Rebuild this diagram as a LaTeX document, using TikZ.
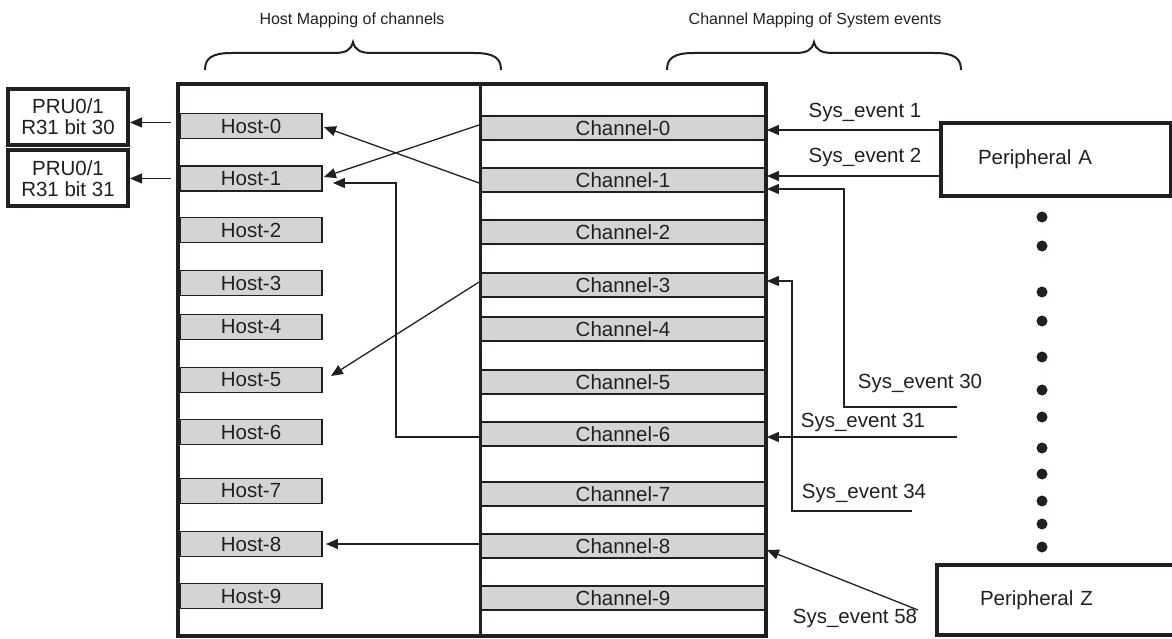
\documentclass[tikz,border=0pt]{standalone}
\usepackage{fontspec}
\setmainfont{Liberation Sans}
\usetikzlibrary{arrows.meta,calc}
\definecolor{ink}{HTML}{231F20}
\definecolor{boxgray}{HTML}{D4D4D4}
\begin{document}
\begin{tikzpicture}[x=1pt,y=-1pt,
  lbl/.style={font=\fontsize{20.5}{22}\selectfont, text=ink, inner sep=0pt},
  ttl/.style={font=\fontsize{16}{18}\selectfont, text=ink, inner sep=0pt},
  hostbox/.style={draw=ink, line width=1.8pt, fill=boxgray, minimum width=142pt, minimum height=25pt, inner sep=0pt, font=\fontsize{20.5}{22}\selectfont, text=ink},
  chanbox/.style={draw=ink, line width=1.8pt, fill=boxgray, minimum width=286pt, minimum height=24pt, inner sep=0pt, font=\fontsize{20.5}{22}\selectfont, text=ink},
  prubox/.style={draw=ink, line width=4pt, minimum width=120pt, minimum height=56pt, inner sep=0pt, align=center, font=\fontsize{20.5}{21}\selectfont, text=ink},
  periph/.style={draw=ink, line width=4.5pt, inner ysep=0pt, align=left, font=\fontsize{20.5}{22}\selectfont, text=ink},
  arr/.style={draw=ink, line width=1.3pt, -{Triangle[length=12pt,width=10pt]}},
  brace/.style={draw=ink, line width=2pt},
  dot/.style={fill=ink}
]
\useasboundingbox (0,0) rectangle (1172,639);

% titles and braces
\node[ttl] (t1) at (352,20) {Host Mapping of channels};
\node[ttl] (t2) at (815,20) {Channel Mapping of System events};
\draw[brace] (205,70) .. controls (205,58) and (212,53) .. (232,53) -- (334,53)
  .. controls (346,53) and (351,50) .. (353,42) .. controls (355,50) and (360,53) .. (372,53)
  -- (474,53) .. controls (494,53) and (501,58) .. (501,70);
\draw[brace] (667,70) .. controls (667,58) and (674,53) .. (694,53) -- (795,53)
  .. controls (807,53) and (812,50) .. (814,42) .. controls (816,50) and (821,53) .. (833,53)
  -- (934,53) .. controls (954,53) and (961,58) .. (961,70);

% host boxes
\node[hostbox] (h0) at (251,126) {Host-0};
\node[hostbox] (h1) at (251,178.5) {Host-1};
\node[hostbox] (h2) at (251,230) {Host-2};
\node[hostbox] (h3) at (251,283) {Host-3};
\node[hostbox] (h4) at (251,327) {Host-4};
\node[hostbox] (h5) at (251,380) {Host-5};
\node[hostbox] (h6) at (251,432) {Host-6};
\node[hostbox] (h7) at (251,491) {Host-7};
\node[hostbox] (h8) at (251,544) {Host-8};
\node[hostbox] (h9) at (251,596) {Host-9};

% channel boxes
\node[chanbox] (c0) at (623,128) {Channel-0};
\node[chanbox] (c1) at (623,180) {Channel-1};
\node[chanbox] (c2) at (623,232) {Channel-2};
\node[chanbox] (c3) at (623,285) {Channel-3};
\node[chanbox] (c4) at (623,329) {Channel-4};
\node[chanbox] (c5) at (623,382) {Channel-5};
\node[chanbox] (c6) at (623,434) {Channel-6};
\node[chanbox] (c7) at (623,494) {Channel-7};
\node[chanbox] (c8) at (623,546) {Channel-8};
\node[chanbox] (c9) at (623,598) {Channel-9};

% frame
\draw[ink, line width=4.5pt] (178,84) rectangle (766,636);
\draw[ink, line width=3pt] (480,84) -- (480,636);

% PRU boxes
\node[prubox] (p0) at (68,117) {PRU0/1\\R31 bit 30};
\node[prubox] (p1) at (68,178.5) {PRU0/1\\R31 bit 31};
\coordinate (h0out) at ($(h0.west)+(-8,-3.5)$);
\coordinate (h1out) at ($(h1.west)+(-8,0)$);
\draw[arr] (h0out) -- (p0.east |- h0out);
\draw[arr] (h1out) -- (p1.east |- h1out);

% channel -> host connectors
\draw[arr] ($(c1.west)+(0,3)$) -- ($(h0.east)+(1,1)$);
\draw[arr] ($(c0.west)+(0,-3)$) -- ($(h1.east)+(1,-1.5)$);
\draw[arr] ($(c6.west)+(0,3)$) -| (396,183) -- ($(h1.east)+(10,4.5)$);
\draw[arr] ($(c3.west)+(0,-3)$) -- ($(h5.east)+(8,-4)$);
\draw[arr] (c8.west |- h8.east) -- ($(h8.east)+(3,0)$);

% peripherals
\node[periph, minimum height=73pt, inner xsep=37pt, text width=156pt] (pA) at (1056,159.5) {Peripheral A};
\node[periph, minimum height=70pt, inner xsep=43pt, text width=153pt] (pZ) at (1056.5,600) {Peripheral Z};

% dots
\foreach \yy in {217,246,292,321,357,390,417,448,474,501,524,547}
  \fill[dot] (1042,\yy) circle (5.5pt);

% system event connectors
\coordinate (e1) at ($(c0.east)+(0,2)$);
\coordinate (e2) at ($(c1.east)+(0,-4)$);
\coordinate (e30) at (957,407);
\coordinate (e31) at (957,437);
\coordinate (e34) at (912,511);
\coordinate (e58) at (918,610);
\draw[arr] (pA.west |- e1) -- (e1);
\draw[arr] (pA.west |- e2) -- (e2);
\draw[arr] (e30) -| (844,189) -- ($(c1.east)+(0,9)$);
\draw[arr] (e34) -| (792,281) -- ($(c3.east)+(0,-4)$);
\draw[arr] (e31) -- ($(c6.east)+(0,3)$);
\draw[arr] (e58) -- ($(c8.east)+(0,4)$);

\node[lbl] (l1) at (865,112) {Sys\_event 1};
\node[lbl] (l2) at (865,157) {Sys\_event 2};
\node[lbl] (l30) at (920,383) {Sys\_event 30};
\node[lbl] (l31) at (863,422) {Sys\_event 31};
\node[lbl] (l34) at (864,493) {Sys\_event 34};
\node[lbl] (l58) at (855,618) {Sys\_event 58};
\end{tikzpicture}
\end{document}
